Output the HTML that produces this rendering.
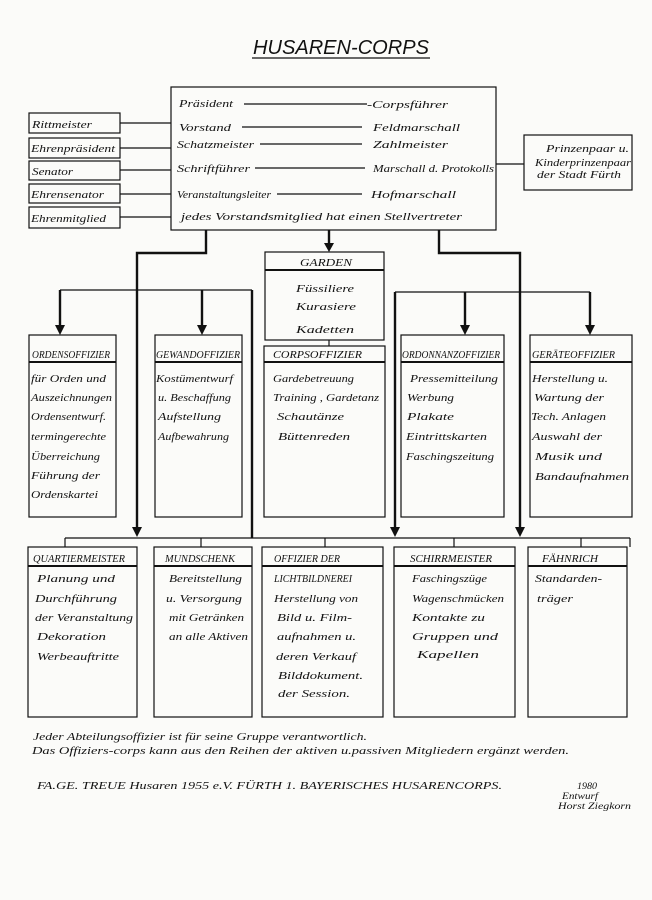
<!DOCTYPE html>
<html><head><meta charset="utf-8"><style>
html,body{margin:0;padding:0;background:#fbfbf9;}
svg{display:block;}
text{font-family:"Liberation Serif",serif;font-style:italic;fill:#111;font-size:11px;}
.h{font-size:9px;font-family:"Liberation Sans",sans-serif;font-style:italic;}
</style></head><body>
<svg width="652" height="900" viewBox="0 0 652 900" xmlns="http://www.w3.org/2000/svg">
<rect width="652" height="900" fill="#fbfbf9"/>
<g stroke="#111" fill="none" stroke-width="1.2">
<line x1="252" y1="58" x2="430" y2="58"/>
<rect x="171" y="87" width="325" height="143"/>
<rect x="29" y="113" width="91" height="20"/>
<rect x="29" y="138" width="91" height="20"/>
<rect x="29" y="161" width="91" height="19"/>
<rect x="29" y="184" width="91" height="19"/>
<rect x="29" y="207" width="91" height="21"/>
<line x1="120" y1="123" x2="171" y2="123"/>
<line x1="120" y1="148" x2="171" y2="148"/>
<line x1="120" y1="170" x2="171" y2="170"/>
<line x1="120" y1="194" x2="171" y2="194"/>
<line x1="120" y1="217" x2="171" y2="217"/>
<rect x="524" y="135" width="108" height="55"/>
<line x1="496" y1="164" x2="524" y2="164"/>
<line x1="244" y1="104" x2="367" y2="104"/>
<line x1="242" y1="127" x2="362" y2="127"/>
<line x1="260" y1="144" x2="362" y2="144"/>
<line x1="255" y1="168" x2="365" y2="168"/>
<line x1="277" y1="194" x2="362" y2="194"/>
<g stroke-width="2.4">
<polyline points="206,230 206,253 137,253 137,530"/>
<line x1="329" y1="230" x2="329" y2="246"/>
<polyline points="439,230 439,253 520,253 520,530"/>
<line x1="252" y1="290" x2="252" y2="538"/>
<line x1="395" y1="292" x2="395" y2="530"/>
<line x1="60" y1="290" x2="60" y2="328"/>
<line x1="202" y1="290" x2="202" y2="328"/>
<line x1="465" y1="292" x2="465" y2="328"/>
<line x1="590" y1="292" x2="590" y2="328"/>
</g>
<line x1="60" y1="290" x2="252" y2="290"/>
<line x1="395" y1="292" x2="590" y2="292"/>
<rect x="265" y="252" width="119" height="88"/>
<line x1="265" y1="270" x2="384" y2="270" stroke-width="2"/>
<line x1="329" y1="340" x2="329" y2="346"/>
<rect x="29" y="335" width="87" height="182"/>
<rect x="155" y="335" width="87" height="182"/>
<rect x="264" y="346" width="121" height="171"/>
<rect x="401" y="335" width="103" height="182"/>
<rect x="530" y="335" width="102" height="182"/>
<g stroke-width="2"><line x1="29" y1="362" x2="116" y2="362"/><line x1="155" y1="362" x2="242" y2="362"/><line x1="264" y1="362" x2="385" y2="362"/><line x1="401" y1="362" x2="504" y2="362"/><line x1="530" y1="362" x2="632" y2="362"/></g>
<line x1="65" y1="538" x2="630" y2="538"/>
<line x1="65" y1="538" x2="65" y2="547"/><line x1="201" y1="538" x2="201" y2="547"/><line x1="325" y1="538" x2="325" y2="547"/><line x1="454" y1="538" x2="454" y2="547"/><line x1="581" y1="538" x2="581" y2="547"/><line x1="630" y1="538" x2="630" y2="547"/>
<rect x="28" y="547" width="109" height="170"/>
<rect x="154" y="547" width="98" height="170"/>
<rect x="262" y="547" width="121" height="170"/>
<rect x="394" y="547" width="121" height="170"/>
<rect x="528" y="547" width="99" height="170"/>
<g stroke-width="2"><line x1="28" y1="566" x2="137" y2="566"/><line x1="154" y1="566" x2="252" y2="566"/><line x1="262" y1="566" x2="383" y2="566"/><line x1="394" y1="566" x2="515" y2="566"/><line x1="528" y1="566" x2="627" y2="566"/></g>
</g>
<g fill="#111">
<polygon points="132,527 142,527 137,537"/>
<polygon points="324,243 334,243 329,252"/>
<polygon points="515,527 525,527 520,537"/>
<polygon points="390,527 400,527 395,537"/>
<polygon points="55,325 65,325 60,335"/>
<polygon points="197,325 207,325 202,335"/>
<polygon points="460,325 470,325 465,335"/>
<polygon points="585,325 595,325 590,335"/>
</g>
<text x="253" y="54" style="font-size:20px;font-family:'Liberation Sans',sans-serif" textLength="176" lengthAdjust="spacingAndGlyphs">HUSAREN-CORPS</text>
<g>
<text x="32" y="128" textLength="60" lengthAdjust="spacingAndGlyphs">Rittmeister</text>
<text x="31" y="152" textLength="84" lengthAdjust="spacingAndGlyphs">Ehrenpräsident</text>
<text x="32" y="175" textLength="41" lengthAdjust="spacingAndGlyphs">Senator</text>
<text x="31" y="198" textLength="73" lengthAdjust="spacingAndGlyphs">Ehrensenator</text>
<text x="31" y="222" textLength="75" lengthAdjust="spacingAndGlyphs">Ehrenmitglied</text>
<text x="179" y="107" textLength="54" lengthAdjust="spacingAndGlyphs">Präsident</text><text x="367" y="108" textLength="81" lengthAdjust="spacingAndGlyphs">-Corpsführer</text>
<text x="179" y="131" textLength="52" lengthAdjust="spacingAndGlyphs">Vorstand</text><text x="373" y="131" textLength="87" lengthAdjust="spacingAndGlyphs">Feldmarschall</text>
<text x="177" y="148" textLength="77" lengthAdjust="spacingAndGlyphs">Schatzmeister</text><text x="373" y="148" textLength="75" lengthAdjust="spacingAndGlyphs">Zahlmeister</text>
<text x="177" y="172" textLength="73" lengthAdjust="spacingAndGlyphs">Schriftführer</text><text x="373" y="172" textLength="121" lengthAdjust="spacingAndGlyphs">Marschall d. Protokolls</text>
<text x="177" y="198" textLength="94" lengthAdjust="spacingAndGlyphs">Veranstaltungsleiter</text><text x="371" y="198" textLength="85" lengthAdjust="spacingAndGlyphs">Hofmarschall</text>
<text x="181" y="220" textLength="281" lengthAdjust="spacingAndGlyphs">jedes Vorstandsmitglied hat einen Stellvertreter</text>
<text x="546" y="152" style="font-size:10px" textLength="83" lengthAdjust="spacingAndGlyphs">Prinzenpaar u.</text>
<text x="535" y="166" style="font-size:10px" textLength="96" lengthAdjust="spacingAndGlyphs">Kinderprinzenpaar</text>
<text x="537" y="178" style="font-size:10px" textLength="84" lengthAdjust="spacingAndGlyphs">der Stadt Fürth</text>
<text x="296" y="292" textLength="58" lengthAdjust="spacingAndGlyphs">Füssiliere</text>
<text x="296" y="310" textLength="60" lengthAdjust="spacingAndGlyphs">Kurasiere</text>
<text x="296" y="333" textLength="58" lengthAdjust="spacingAndGlyphs">Kadetten</text>
<text x="31" y="382" textLength="75" lengthAdjust="spacingAndGlyphs">für Orden und</text><text x="31" y="401" textLength="81" lengthAdjust="spacingAndGlyphs">Auszeichnungen</text><text x="31" y="420" textLength="75" lengthAdjust="spacingAndGlyphs">Ordensentwurf.</text><text x="31" y="440" textLength="75" lengthAdjust="spacingAndGlyphs">termingerechte</text><text x="31" y="460" textLength="69" lengthAdjust="spacingAndGlyphs">Überreichung</text><text x="31" y="479" textLength="69" lengthAdjust="spacingAndGlyphs">Führung der</text><text x="31" y="498" textLength="67" lengthAdjust="spacingAndGlyphs">Ordenskartei</text>
<text x="156" y="382" textLength="77" lengthAdjust="spacingAndGlyphs">Kostümentwurf</text><text x="158" y="401" textLength="73" lengthAdjust="spacingAndGlyphs">u. Beschaffung</text><text x="158" y="420" textLength="63" lengthAdjust="spacingAndGlyphs">Aufstellung</text><text x="158" y="440" textLength="71" lengthAdjust="spacingAndGlyphs">Aufbewahrung</text>
<text x="273" y="382" textLength="81" lengthAdjust="spacingAndGlyphs">Gardebetreuung</text><text x="273" y="401" textLength="106" lengthAdjust="spacingAndGlyphs">Training , Gardetanz</text><text x="277" y="420" textLength="67" lengthAdjust="spacingAndGlyphs">Schautänze</text><text x="278" y="440" textLength="72" lengthAdjust="spacingAndGlyphs">Büttenreden</text>
<text x="410" y="382" textLength="88" lengthAdjust="spacingAndGlyphs">Pressemitteilung</text><text x="407" y="401" textLength="47" lengthAdjust="spacingAndGlyphs">Werbung</text><text x="407" y="420" textLength="47" lengthAdjust="spacingAndGlyphs">Plakate</text><text x="406" y="440" textLength="81" lengthAdjust="spacingAndGlyphs">Eintrittskarten</text><text x="406" y="460" textLength="88" lengthAdjust="spacingAndGlyphs">Faschingszeitung</text>
<text x="532" y="382" textLength="76" lengthAdjust="spacingAndGlyphs">Herstellung u.</text><text x="534" y="401" textLength="70" lengthAdjust="spacingAndGlyphs">Wartung der</text><text x="531" y="420" textLength="75" lengthAdjust="spacingAndGlyphs">Tech. Anlagen</text><text x="532" y="440" textLength="70" lengthAdjust="spacingAndGlyphs">Auswahl der</text><text x="535" y="460" textLength="67" lengthAdjust="spacingAndGlyphs">Musik und</text><text x="535" y="480" textLength="94" lengthAdjust="spacingAndGlyphs">Bandaufnahmen</text>
<text x="37" y="582" textLength="78" lengthAdjust="spacingAndGlyphs">Planung und</text><text x="35" y="602" textLength="82" lengthAdjust="spacingAndGlyphs">Durchführung</text><text x="35" y="621" textLength="98" lengthAdjust="spacingAndGlyphs">der Veranstaltung</text><text x="37" y="640" textLength="69" lengthAdjust="spacingAndGlyphs">Dekoration</text><text x="37" y="660" textLength="82" lengthAdjust="spacingAndGlyphs">Werbeauftritte</text>
<text x="169" y="582" textLength="73" lengthAdjust="spacingAndGlyphs">Bereitstellung</text><text x="166" y="602" textLength="76" lengthAdjust="spacingAndGlyphs">u. Versorgung</text><text x="169" y="621" textLength="75" lengthAdjust="spacingAndGlyphs">mit Getränken</text><text x="169" y="640" textLength="79" lengthAdjust="spacingAndGlyphs">an alle Aktiven</text>
<text x="274" y="602" textLength="84" lengthAdjust="spacingAndGlyphs">Herstellung von</text><text x="277" y="621" textLength="75" lengthAdjust="spacingAndGlyphs">Bild u. Film-</text><text x="277" y="640" textLength="79" lengthAdjust="spacingAndGlyphs">aufnahmen u.</text><text x="276" y="660" textLength="80" lengthAdjust="spacingAndGlyphs">deren Verkauf</text><text x="278" y="679" textLength="85" lengthAdjust="spacingAndGlyphs">Bilddokument.</text><text x="278" y="697" textLength="72" lengthAdjust="spacingAndGlyphs">der Session.</text>
<text x="412" y="582" textLength="75" lengthAdjust="spacingAndGlyphs">Faschingszüge</text><text x="412" y="602" textLength="92" lengthAdjust="spacingAndGlyphs">Wagenschmücken</text><text x="412" y="621" textLength="73" lengthAdjust="spacingAndGlyphs">Kontakte zu</text><text x="412" y="640" textLength="86" lengthAdjust="spacingAndGlyphs">Gruppen und</text><text x="417" y="658" textLength="62" lengthAdjust="spacingAndGlyphs">Kapellen</text>
<text x="535" y="582" textLength="67" lengthAdjust="spacingAndGlyphs">Standarden-</text><text x="537" y="602" textLength="36" lengthAdjust="spacingAndGlyphs">träger</text>
</g>
<g class="h">
<text x="300" y="266" style="font-size:10px" textLength="52" lengthAdjust="spacingAndGlyphs">GARDEN</text>
<text x="32" y="358" textLength="78" lengthAdjust="spacingAndGlyphs">ORDENSOFFIZIER</text>
<text x="156" y="358" textLength="84" lengthAdjust="spacingAndGlyphs">GEWANDOFFIZIER</text>
<text x="273" y="358" style="font-size:10px" textLength="89" lengthAdjust="spacingAndGlyphs">CORPSOFFIZIER</text>
<text x="402" y="358" textLength="98" lengthAdjust="spacingAndGlyphs">ORDONNANZOFFIZIER</text>
<text x="532" y="358" textLength="83" lengthAdjust="spacingAndGlyphs">GERÄTEOFFIZIER</text>
<text x="33" y="562" textLength="92" lengthAdjust="spacingAndGlyphs">QUARTIERMEISTER</text>
<text x="165" y="562" textLength="70" lengthAdjust="spacingAndGlyphs">MUNDSCHENK</text>
<text x="274" y="562" textLength="66" lengthAdjust="spacingAndGlyphs">OFFIZIER DER</text>
<text x="274" y="582" textLength="78" lengthAdjust="spacingAndGlyphs">LICHTBILDNEREI</text>
<text x="410" y="562" textLength="82" lengthAdjust="spacingAndGlyphs">SCHIRRMEISTER</text>
<text x="542" y="562" textLength="56" lengthAdjust="spacingAndGlyphs">FÄHNRICH</text>
</g>
<g>
<text x="33" y="740" style="font-size:10px" textLength="334" lengthAdjust="spacingAndGlyphs">Jeder Abteilungsoffizier ist für seine Gruppe verantwortlich.</text>
<text x="32" y="754" style="font-size:10px" textLength="537" lengthAdjust="spacingAndGlyphs">Das Offiziers-corps kann aus den Reihen der aktiven u.passiven Mitgliedern ergänzt werden.</text>
<text x="37" y="789" style="font-size:10px" textLength="465" lengthAdjust="spacingAndGlyphs">FA.GE.  TREUE Husaren  1955 e.V.  FÜRTH    1. BAYERISCHES HUSARENCORPS.</text>
<text x="577" y="789" style="font-size:9px" textLength="20" lengthAdjust="spacingAndGlyphs">1980</text>
<text x="562" y="799" style="font-size:9px" textLength="36" lengthAdjust="spacingAndGlyphs">Entwurf</text>
<text x="558" y="809" style="font-size:9px" textLength="73" lengthAdjust="spacingAndGlyphs">Horst Ziegkorn</text>
</g>
</svg>
</body></html>
